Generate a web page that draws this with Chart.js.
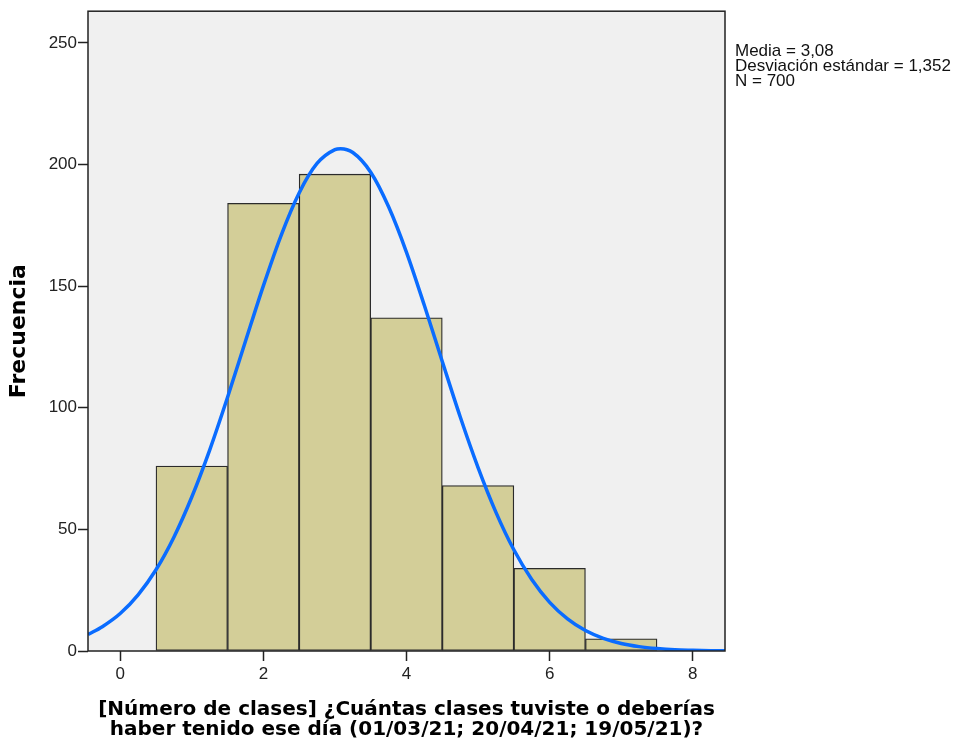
<!DOCTYPE html>
<html>
<head>
<meta charset="utf-8">
<script src="https://cdn.jsdelivr.net/npm/chart.js@4.4.1/dist/chart.umd.min.js"></script>
<style>
html,body{margin:0;padding:0;background:#fff;}
#wrap{width:956px;height:745px;position:relative;}
</style>
</head>
<body>
<div id="wrap"><canvas id="c" width="956" height="745"></canvas></div>
<script>
// Histogram bins (class midpoints) and frequencies
const binCenters = [1, 2, 3, 4, 5, 6, 7];
const frequencies = [76, 184, 196, 137, 68, 34, 5];
// Normal curve
const curveX = [-0.45, -0.25, 0, 0.25, 0.5, 0.75, 1, 1.25, 1.5, 1.75, 2, 2.25, 2.5, 2.75, 3, 3.08, 3.25, 3.5, 3.75, 4, 4.25, 4.5, 4.75, 5, 5.25, 5.5, 5.75, 6, 6.25, 6.5, 6.75, 7, 7.25, 7.5, 7.75, 8, 8.25, 8.45];
const curveY = [6.8, 10.0, 15.4, 23.1, 33.4, 46.8, 63.3, 82.6, 104.3, 127.3, 150.1, 171.0, 188.3, 200.4, 206.1, 206.5, 204.9, 196.8, 182.6, 163.9, 142.0, 119.0, 96.3, 75.4, 57.0, 41.6, 29.4, 20.0, 13.2, 8.4, 5.2, 3.1, 1.8, 1.0, 0.5, 0.3, 0.15, 0.1];
// Tick labels
const xTicks = [0, 2, 4, 6, 8];
const yTicks = [0, 50, 100, 150, 200, 250];
const statsLines = ["Media = 3,08", "Desviación estándar = 1,352", "N = 700"];
const xTitle = ["[Número de clases] ¿Cuántas clases tuviste o deberías", "haber tenido ese día (01/03/21; 20/04/21; 19/05/21)?"];
const yTitle = "Frecuencia";

const bgPlugin = {
  id: 'bg',
  beforeDraw(chart) {
    const {ctx, chartArea: a} = chart;
    ctx.save();
    ctx.fillStyle = '#f0f0f0';
    ctx.fillRect(a.left, a.top, a.right - a.left, a.bottom - a.top);
    ctx.restore();
  },
  afterDraw(chart) {
    const {ctx, chartArea: a} = chart;
    ctx.save();
    ctx.strokeStyle = '#222';
    ctx.lineWidth = 1.5;
    ctx.strokeRect(a.left, a.top, a.right - a.left, a.bottom - a.top);
    ctx.fillStyle = '#111';
    ctx.font = '17px "Liberation Sans", Arial, sans-serif';
    ctx.textBaseline = 'middle';
    ctx.textAlign = 'left';
    statsLines.forEach((t, i) => ctx.fillText(t, a.right + 10, 51.5 + i * 15));
    ctx.restore();
  }
};

new Chart(document.getElementById('c'), {
  data: {
    datasets: [
      {
        type: 'line',
        data: curveX.map((x, i) => ({x: x, y: curveY[i]})),
        borderColor: '#0a6cff',
        borderWidth: 3.5,
        pointRadius: 0,
        cubicInterpolationMode: 'monotone',
        fill: false,
        order: 0
      },
      {
        type: 'bar',
        data: binCenters.map((x, i) => ({x: x, y: frequencies[i]})),
        backgroundColor: '#d3ce98',
        borderColor: '#2b2b2b',
        borderWidth: 1.3,
        borderSkipped: false,
        barPercentage: 1,
        categoryPercentage: 1,
        order: 1
      }
    ]
  },
  options: {
    responsive: false,
    animation: false,
    devicePixelRatio: 1,
    layout: {padding: {top: 10, right: 231, left: 0, bottom: 0}},
    plugins: {legend: {display: false}, tooltip: {enabled: false}},
    scales: {
      x: {
        type: 'linear',
        min: -0.45,
        max: 8.45,
        offset: false,
        afterBuildTicks(s) { s.ticks = xTicks.map(v => ({value: v})); },
        afterFit(s) { s.height = 94; },
        grid: {offset: false, drawOnChartArea: false, drawTicks: true, tickLength: 10, tickColor: '#222', tickWidth: 1.5},
        border: {display: false},
        ticks: {color: '#222', padding: 3, font: {family: '"Liberation Sans", Arial, sans-serif', size: 17}, maxRotation: 0},
        title: {display: true, text: xTitle, color: '#000', padding: {top: 0, bottom: 5},
                font: {family: '"DejaVu Sans", Verdana, sans-serif', size: 20, weight: 'bold', lineHeight: 1.0}}
      },
      y: {
        type: 'linear',
        min: 0,
        max: 263,
        afterBuildTicks(s) { s.ticks = yTicks.map(v => ({value: v})); },
        afterFit(s) { s.width = 88; },
        grid: {drawOnChartArea: false, drawTicks: true, tickLength: 10, tickColor: '#222', tickWidth: 1.5},
        border: {display: false},
        ticks: {color: '#222', padding: 1, font: {family: '"Liberation Sans", Arial, sans-serif', size: 17}},
        title: {display: true, text: yTitle, color: '#000', padding: {top: 6, bottom: 0},
                font: {family: '"DejaVu Sans", Verdana, sans-serif', size: 22, weight: 'bold', lineHeight: 1.2}}
      }
    }
  },
  plugins: [bgPlugin]
});
</script>
</body>
</html>
